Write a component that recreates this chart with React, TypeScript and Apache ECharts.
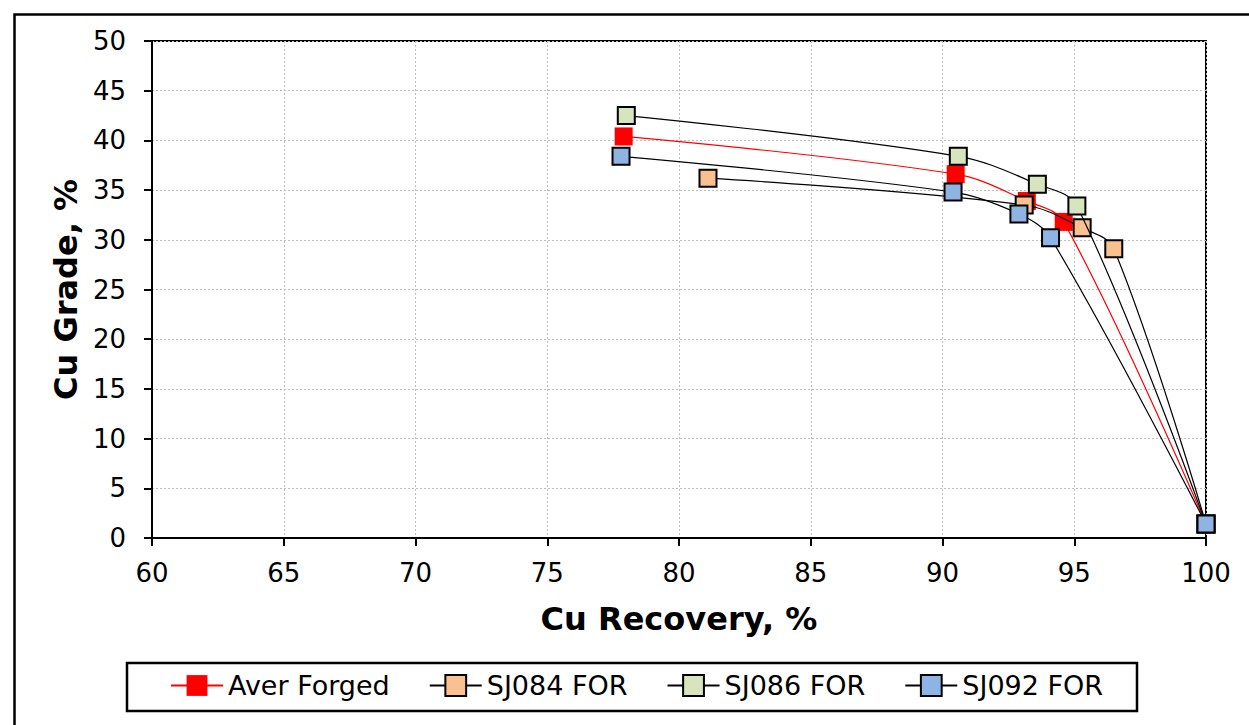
import React, { useEffect, useRef } from "react";
import * as echarts from "echarts";

const seriesNames = ["Aver Forged", "SJ084 FOR", "SJ086 FOR", "SJ092 FOR"];
const averRecovery = [77.9, 90.5, 93.2, 94.6, 100];
const averGrade = [40.4, 36.6, 33.9, 31.8, 1.4];
const sj084Recovery = [81.1, 93.1, 95.3, 96.5, 100];
const sj084Grade = [36.2, 33.5, 31.2, 29.1, 1.4];
const sj086Recovery = [78.0, 90.6, 93.6, 95.1, 100];
const sj086Grade = [42.5, 38.4, 35.6, 33.4, 1.4];
const sj092Recovery = [77.8, 90.4, 92.9, 94.1, 100];
const sj092Grade = [38.4, 34.8, 32.6, 30.2, 1.4];
const fills = ["#FF0000", "#FAC090", "#D7E4BD", "#8EB4E3"];
const lineColors = ["#FF0000", "#000000", "#000000", "#000000"];

const FONT = "DejaVu Sans, Verdana, sans-serif";

function pairs(xs: number[], ys: number[]) {
  return xs.map((x, i) => [x, ys[i]]);
}

export default function App() {
  const ref = useRef<HTMLDivElement>(null);
  useEffect(() => {
    if (!ref.current) return;
    const chart = echarts.init(ref.current, null, { renderer: "svg" });
    const datasets = [
      pairs(averRecovery, averGrade),
      pairs(sj084Recovery, sj084Grade),
      pairs(sj086Recovery, sj086Grade),
      pairs(sj092Recovery, sj092Grade),
    ];
    const series = seriesNames.map((name, i) => ({
      name,
      type: "line",
      data: datasets[i],
      smooth: 0.35,
      symbol: "rect",
      symbolSize: i === 0 ? 18 : 17,
      lineStyle: { color: lineColors[i], width: 1.2 },
      itemStyle: {
        color: fills[i],
        borderColor: i === 0 ? fills[i] : "#000000",
        borderWidth: i === 0 ? 0 : 2,
      },
      z: 2 + i,
    }));
    chart.setOption({
      animation: false,
      backgroundColor: "#ffffff",
      textStyle: { fontFamily: FONT },
      grid: {
        left: 152,
        top: 41,
        right: 43,
        bottom: 187,
        show: true,
        borderColor: "#000",
        borderWidth: 2,
        outerBoundsMode: "none",
        containLabel: false,
      },
      xAxis: {
        type: "value",
        min: 60,
        max: 100,
        interval: 5,
        name: "Cu Recovery, %",
        nameLocation: "middle",
        nameGap: 65,
        nameTextStyle: { fontSize: 32, fontWeight: "bold", color: "#000", fontFamily: FONT },
        axisLine: { show: true, onZero: false, lineStyle: { color: "#000", width: 2 } },
        axisTick: { show: true, inside: false, length: 8, lineStyle: { color: "#000", width: 2 } },
        axisLabel: { fontSize: 26, color: "#000", margin: 22, fontFamily: FONT },
        splitLine: { show: true, lineStyle: { color: "#BFBFBF", width: 1, type: [2, 2] } },
      },
      yAxis: {
        type: "value",
        min: 0,
        max: 50,
        interval: 5,
        name: "Cu Grade, %",
        nameLocation: "middle",
        nameGap: 68,
        nameRotate: 90,
        nameTextStyle: { fontSize: 32, fontWeight: "bold", color: "#000", fontFamily: FONT },
        axisLine: { show: true, onZero: false, lineStyle: { color: "#000", width: 2 } },
        axisTick: { show: true, inside: false, length: 8, lineStyle: { color: "#000", width: 2 } },
        axisLabel: { fontSize: 26, color: "#000", margin: 26, fontFamily: FONT },
        splitLine: { show: true, lineStyle: { color: "#BFBFBF", width: 1, type: [2, 2] } },
      },
      legend: {
        data: seriesNames,
        left: 170,
        top: 672,
        padding: 0,
        itemWidth: 52,
        itemHeight: 26,
        itemGap: 39,
        textStyle: { fontSize: 27, color: "#000", fontFamily: FONT },
      },
      graphic: [
        {
          type: "rect",
          left: 12,
          top: 12,
          shape: { x: 0, y: 0, width: 1300, height: 800 },
          style: { fill: "none", stroke: "#000", lineWidth: 2.5 },
          silent: true,
          z: -10,
        },
        {
          type: "rect",
          shape: { x: 127, y: 663, width: 1010, height: 48 },
          style: { fill: "none", stroke: "#000", lineWidth: 2.5 },
          silent: true,
        },
      ],
      series,
    });
    return () => chart.dispose();
  }, []);
  return (
    <div
      ref={ref}
      style={{ position: "absolute", left: 0, top: 0, width: 1249, height: 725 }}
    />
  );
}
